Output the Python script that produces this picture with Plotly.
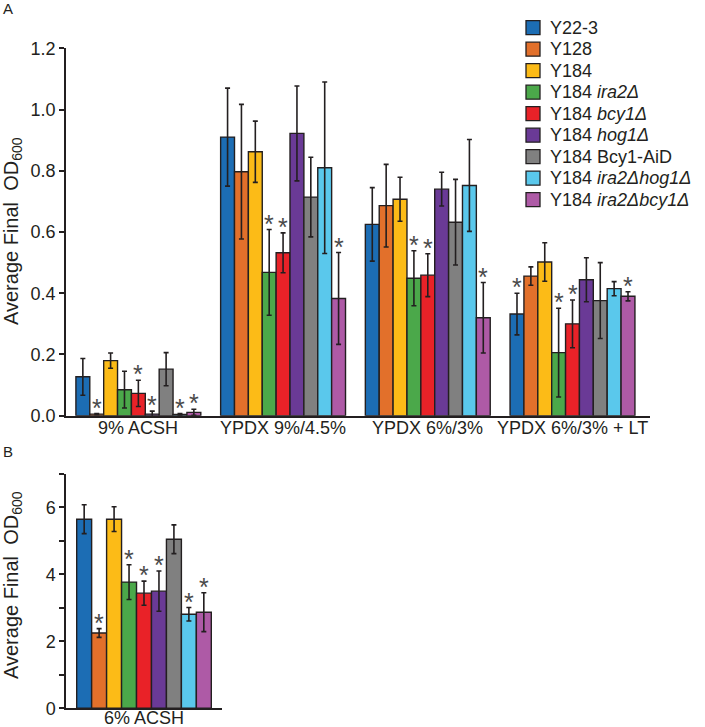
import plotly.graph_objects as go

W, H = 705, 727

strains = ["Y22-3", "Y128", "Y184", "Y184 ira2Δ", "Y184 bcy1Δ", "Y184 hog1Δ",
           "Y184 Bcy1-AiD", "Y184 ira2Δhog1Δ", "Y184 ira2Δbcy1Δ"]
legend_names = ["Y22-3", "Y128", "Y184", "Y184 <i>ira2Δ</i>", "Y184 <i>bcy1Δ</i>",
                "Y184 <i>hog1Δ</i>", "Y184 Bcy1-AiD", "Y184 <i>ira2Δhog1Δ</i>",
                "Y184 <i>ira2Δbcy1Δ</i>"]
colors = ["#1c6db4", "#e2702b", "#fcbb17", "#4ba84a", "#e92228", "#6a3a96",
          "#808080", "#5ac8ec", "#ae5aa6"]

groups_a = ["9% ACSH", "YPDX 9%/4.5%", "YPDX 6%/3%", "YPDX 6%/3% + LT"]
groups_b = ["6% ACSH"]

acsh9_mean = [0.127, 0.005, 0.180, 0.085, 0.073, 0.005, 0.152, 0.004, 0.011]
acsh9_err = [0.060, 0.002, 0.025, 0.060, 0.043, 0.010, 0.054, 0.003, 0.010]
ypdx9_mean = [0.910, 0.797, 0.862, 0.468, 0.532, 0.922, 0.714, 0.810, 0.383]
ypdx9_err = [0.160, 0.220, 0.100, 0.140, 0.065, 0.155, 0.130, 0.280, 0.150]
ypdx6_mean = [0.625, 0.686, 0.707, 0.449, 0.459, 0.740, 0.632, 0.752, 0.320]
ypdx6_err = [0.120, 0.135, 0.072, 0.090, 0.070, 0.055, 0.140, 0.150, 0.115]
ypdx6lt_mean = [0.332, 0.456, 0.502, 0.206, 0.300, 0.444, 0.376, 0.415, 0.390]
ypdx6lt_err = [0.068, 0.030, 0.063, 0.145, 0.078, 0.072, 0.124, 0.023, 0.015]
acsh6_mean = [5.65, 2.25, 5.65, 3.77, 3.44, 3.50, 5.05, 2.81, 2.87]
acsh6_err = [0.43, 0.13, 0.37, 0.52, 0.36, 0.60, 0.43, 0.20, 0.58]

# significant strains (indices) per condition -> asterisk
sig_acsh9 = [1, 4, 5, 7, 8]
sig_ypdx9 = [3, 4, 8]
sig_ypdx6 = [3, 4, 8]
sig_ypdx6lt = [0, 3, 4, 8]
sig_acsh6 = [1, 3, 4, 5, 7, 8]

means_a = [acsh9_mean, ypdx9_mean, ypdx6_mean, ypdx6lt_mean]
errs_a = [acsh9_err, ypdx9_err, ypdx6_err, ypdx6lt_err]
sigs_a = [sig_acsh9, sig_ypdx9, sig_ypdx6, sig_ypdx6lt]

INK = "#231f20"
FONT = "Arial, Liberation Sans, Helvetica, sans-serif"
BARGAP = 0.137

fig = go.Figure()
for i, s in enumerate(strains):
    fig.add_trace(go.Bar(
        x=groups_a, y=[m[i] for m in means_a],
        error_y=dict(type="data", array=[e[i] for e in errs_a], color=INK,
                     thickness=1.6, width=2.5),
        marker=dict(color=colors[i], line=dict(color=INK, width=1.4)),
        name=legend_names[i], legendgroup=s, xaxis="x", yaxis="y"))
for i, s in enumerate(strains):
    fig.add_trace(go.Bar(
        x=groups_b, y=[acsh6_mean[i]],
        error_y=dict(type="data", array=[acsh6_err[i]], color=INK,
                     thickness=1.6, width=2.5),
        marker=dict(color=colors[i], line=dict(color=INK, width=1.4)),
        name=legend_names[i], legendgroup=s, showlegend=False,
        xaxis="x2", yaxis="y2"))

annotations = []
shapes = []
n = len(strains)
w = (1 - BARGAP) / n
STAR = dict(size=25, color="#4a4a4a", family=FONT)
for g, (m, e, sig) in enumerate(zip(means_a, errs_a, sigs_a)):
    for i in sig:
        annotations.append(dict(
            x=g + (i - (n - 1) / 2) * w, y=m[i] + e[i], xref="x", yref="y",
            text="*", showarrow=False, yanchor="middle", yshift=6, font=STAR))
for i in sig_acsh6:
    annotations.append(dict(
        x=(i - (n - 1) / 2) * w, y=acsh6_mean[i] + acsh6_err[i], xref="x2", yref="y2",
        text="*", showarrow=False, yanchor="middle", yshift=6, font=STAR))

# category labels just below the x axis lines
CAT = dict(size=18, color=INK, family=FONT)
for g, label in enumerate(groups_a):
    annotations.append(dict(text=label, x=g, y=0, xref="x", yref="y", showarrow=False,
                            xanchor="center", yanchor="middle", yshift=-12, font=CAT))
for g, label in enumerate(groups_b):
    annotations.append(dict(text=label, x=g, y=0, xref="x2", yref="y2", showarrow=False,
                            xanchor="center", yanchor="middle", yshift=-9.5, font=CAT))

# legend drawn as swatches + labels
LEG_X0, LEG_Y0, LEG_DY, SW = 526, 27.7, 21.5, 14
for i, name in enumerate(legend_names):
    yc = LEG_Y0 + i * LEG_DY
    shapes.append(dict(type="rect", xref="paper", yref="paper",
                       x0=LEG_X0 / W, x1=(LEG_X0 + SW) / W,
                       y0=1 - (yc + SW / 2) / H, y1=1 - (yc - SW / 2) / H,
                       fillcolor=colors[i], line=dict(color=INK, width=1.3)))
    annotations.append(dict(text=name, x=(LEG_X0 + SW + 8) / W, y=1 - yc / H,
                            xref="paper", yref="paper", showarrow=False,
                            xanchor="left", yanchor="middle",
                            font=dict(size=18, color=INK, family=FONT)))

ytitle = "Average Final\u00a0 OD<sub>600</sub>"
annotations += [
    dict(text="A", x=8 / W, y=1 - 8 / H, xref="paper", yref="paper", showarrow=False,
         xanchor="center", yanchor="middle", font=dict(size=15, color=INK, family=FONT)),
    dict(text="B", x=8 / W, y=1 - 451 / H, xref="paper", yref="paper", showarrow=False,
         xanchor="center", yanchor="middle", font=dict(size=15, color=INK, family=FONT)),
    dict(text=ytitle, textangle=-90, x=12 / W, y=1 - 231 / H, xref="paper", yref="paper",
         showarrow=False, xanchor="center", yanchor="middle",
         font=dict(size=20, color=INK, family=FONT)),
    dict(text=ytitle, textangle=-90, x=12 / W, y=1 - 585 / H, xref="paper", yref="paper",
         showarrow=False, xanchor="center", yanchor="middle",
         font=dict(size=20, color=INK, family=FONT)),
]

axis_common = dict(showline=True, linecolor=INK, linewidth=1.5, showgrid=False,
                   zeroline=False, automargin=False,
                   tickfont=dict(size=18, color=INK, family=FONT))

fig.update_layout(
    width=W, height=H, margin=dict(l=0, r=0, t=0, b=0, autoexpand=False),
    paper_bgcolor="white", plot_bgcolor="white",
    barmode="group", bargap=BARGAP, bargroupgap=0,
    font=dict(family=FONT, color=INK),
    xaxis=dict(domain=[66 / W, 650 / W], anchor="y", ticks="", showticklabels=False,
               **axis_common),
    yaxis=dict(domain=[1 - 415.7 / H, 1 - 48.3 / H], anchor="x", range=[0, 1.2],
               dtick=0.2, tickformat=".1f", ticks="outside", ticklen=5,
               tickcolor=INK, tickwidth=1.5, **axis_common),
    xaxis2=dict(domain=[66 / W, 222 / W], anchor="y2", ticks="", showticklabels=False,
                **axis_common),
    yaxis2=dict(domain=[1 - 708.3 / H, 1 - 474 / H], anchor="x2", range=[0, 7],
                dtick=2, tick0=0, ticks="outside", ticklen=5, tickcolor=INK, tickwidth=1.5,
                minor=dict(dtick=1, tick0=0, ticks="outside", ticklen=5,
                           tickcolor=INK, tickwidth=1.5),
                **axis_common),
    annotations=annotations,
    shapes=shapes,
    showlegend=False,
)

fig.write_html("out.html", config={"displayModeBar": False},
               post_script="document.body.style.margin='0';document.body.style.padding='0';")
